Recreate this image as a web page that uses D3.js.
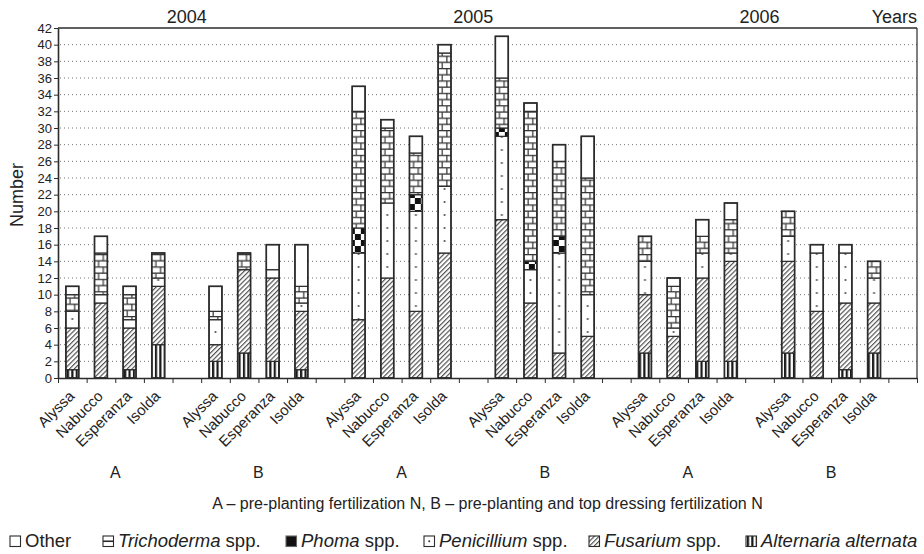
<!DOCTYPE html>
<html><head><meta charset="utf-8">
<script src="https://cdn.jsdelivr.net/npm/d3@7"></script>
<style>
body{margin:0;background:#fff;}
text{font-family:"Liberation Sans",Arial,Helvetica,sans-serif;fill:#222;}
</style>
</head><body>
<svg id="chart" width="924" height="554"></svg>
<script>
// Categories
const cultivars = ["Alyssa", "Nabucco", "Esperanza", "Isolda"];
const years = ["2004", "2005", "2006"];
const treatments = ["A", "B"];
const yTicks = d3.range(0, 43, 2);

// Counts per bar, ordered 2004A, 2004B, 2005A, 2005B, 2006A, 2006B,
// each block holding Alyssa, Nabucco, Esperanza, Isolda
const alternaria  = [1, 0, 1, 4,   2, 3, 2, 1,   0, 0, 0, 0,    0, 0, 0, 0,   3, 0, 2, 2,   3, 0, 1, 3];
const fusarium    = [5, 9, 5, 7,   2, 10, 10, 7, 7, 12, 8, 15,  19, 9, 3, 5,  7, 5, 10, 12, 11, 8, 8, 6];
const penicillium = [2, 1, 1, 1,   3, 0, 1, 1,   8, 9, 12, 8,   10, 4, 12, 5, 4, 1, 3, 1,    3, 7, 6, 3];
const phoma       = [0, 0, 0, 0,   0, 0, 0, 0,   3, 0, 2, 0,    1, 1, 2, 0,   0, 0, 0, 0,    0, 0, 0, 0];
const trichoderma = [2, 5, 3, 3,   1, 2, 0, 2,   14, 9, 5, 16,  6, 18, 9, 14, 3, 5, 2, 4,    3, 0, 0, 2];
const other       = [1, 2, 1, 0,   3, 0, 3, 5,   3, 1, 2, 1,    5, 1, 2, 5,   0, 1, 2, 2,    0, 1, 1, 0];

const seriesKeys = ["alternaria", "fusarium", "penicillium", "phoma", "trichoderma", "other"];
const seriesData = {alternaria, fusarium, penicillium, phoma, trichoderma, other};
const legendItems = [
  {key: "other", italic: "", plain: "Other"},
  {key: "trichoderma", italic: "Trichoderma", plain: " spp."},
  {key: "phoma", italic: "Phoma", plain: " spp."},
  {key: "penicillium", italic: "Penicillium", plain: " spp."},
  {key: "fusarium", italic: "Fusarium", plain: " spp."},
  {key: "alternaria", italic: "Alternaria alternata", plain: ""}
];

// one row per bar; groups are separated by an empty slot
const rows = [];
let i = 0;
years.forEach((yr, yi) => treatments.forEach((tr, ti) => cultivars.forEach((cv, ci) => {
  const g = yi * 2 + ti;
  const row = {slot: g * 5 + ci, year: yr, treatment: tr, cultivar: cv};
  seriesKeys.forEach(k => row[k] = seriesData[k][i]);
  rows.push(row);
  i++;
})));

const svg = d3.select("#chart");
const L = 58, R = 917, T = 28, B = 378;
const nSlots = 30;

const x = d3.scaleBand().domain(d3.range(nSlots)).range([L, R]).paddingInner(0.55).paddingOuter(0.275);
const xEdge = d3.scaleLinear().domain([0, nSlots]).range([L, R]);
const y = d3.scaleLinear().domain([0, 42]).range([B, T]);
const bw = x.bandwidth();
const ink = "#2b2b2b";

// fill patterns
const defs = svg.append("defs");
// Alternaria: vertical bars
const pA = defs.append("pattern").attr("id", "p-alternaria").attr("patternUnits", "userSpaceOnUse")
  .attr("width", 4.4).attr("height", 10).attr("x", x(0) + 1);
pA.append("rect").attr("width", 4.4).attr("height", 10).attr("fill", "#fff");
pA.append("rect").attr("width", 2.2).attr("height", 10).attr("fill", "#1a1a1a");
// Fusarium: diagonal hatching
const pF = defs.append("pattern").attr("id", "p-fusarium").attr("patternUnits", "userSpaceOnUse")
  .attr("width", 3.4).attr("height", 3.4).attr("patternTransform", "rotate(45)");
pF.append("rect").attr("width", 3.4).attr("height", 3.4).attr("fill", "#fff");
pF.append("line").attr("x1", 0.6).attr("x2", 0.6).attr("y1", 0).attr("y2", 3.4).attr("stroke", "#444").attr("stroke-width", 1.1);
// Penicillium: sparse dots
const pP = defs.append("pattern").attr("id", "p-penicillium").attr("patternUnits", "userSpaceOnUse")
  .attr("width", x.step()).attr("height", 13).attr("x", x(0)).attr("y", B);
pP.append("rect").attr("width", x.step()).attr("height", 13).attr("fill", "#fff");
pP.append("circle").attr("cx", bw / 2).attr("cy", 6).attr("r", 1.1).attr("fill", "#555");
// Phoma: checkerboard
const pH = defs.append("pattern").attr("id", "p-phoma").attr("patternUnits", "userSpaceOnUse")
  .attr("width", 12).attr("height", 12).attr("x", x(0) + 1).attr("y", B);
pH.append("rect").attr("width", 12).attr("height", 12).attr("fill", "#fff");
pH.append("rect").attr("width", 6).attr("height", 6).attr("fill", "#111");
pH.append("rect").attr("x", 6).attr("y", 6).attr("width", 6).attr("height", 6).attr("fill", "#111");
// Trichoderma: brick courses
const pT = defs.append("pattern").attr("id", "p-trichoderma").attr("patternUnits", "userSpaceOnUse")
  .attr("width", x.step()).attr("height", 12.4).attr("x", x(0)).attr("y", B);
pT.append("rect").attr("width", x.step()).attr("height", 12.4).attr("fill", "#fff");
pT.append("line").attr("x1", 0).attr("x2", x.step()).attr("y1", 0.6).attr("y2", 0.6).attr("stroke", "#333").attr("stroke-width", 1.3);
pT.append("line").attr("x1", 0).attr("x2", x.step()).attr("y1", 6.8).attr("y2", 6.8).attr("stroke", "#333").attr("stroke-width", 1.3);
pT.append("line").attr("x1", bw * 0.68).attr("x2", bw * 0.68).attr("y1", 0).attr("y2", 6.8).attr("stroke", "#333").attr("stroke-width", 1.2);
pT.append("line").attr("x1", bw * 0.32).attr("x2", bw * 0.32).attr("y1", 6.8).attr("y2", 12.4).attr("stroke", "#333").attr("stroke-width", 1.2);

const fillOf = k => k === "other" ? "#fff" : `url(#p-${k})`;

// gridlines
svg.append("g").selectAll("line").data(yTicks.filter(v => v > 0 && v < 42)).join("line")
  .attr("x1", L + 2).attr("x2", R).attr("y1", d => y(d)).attr("y2", d => y(d))
  .attr("stroke", "#777").attr("stroke-width", 1).attr("stroke-dasharray", "1,3");

// stacked bars
const stack = d3.stack().keys(seriesKeys)(rows);
const layers = svg.append("g").selectAll("g").data(stack).join("g")
  .attr("fill", d => fillOf(d.key));
layers.selectAll("rect").data(d => d.filter(s => s[1] > s[0])).join("rect")
  .attr("x", d => x(d.data.slot)).attr("width", bw)
  .attr("y", d => y(d[1])).attr("height", d => y(d[0]) - y(d[1]))
  .attr("stroke", ink).attr("stroke-width", 1.2);
// bar outlines
svg.append("g").selectAll("rect").data(rows).join("rect")
  .attr("x", d => x(d.slot)).attr("width", bw)
  .attr("y", d => y(d3.sum(seriesKeys, k => d[k])))
  .attr("height", d => B - y(d3.sum(seriesKeys, k => d[k])))
  .attr("fill", "none").attr("stroke", ink).attr("stroke-width", 1.6);

// frame
svg.append("line").attr("x1", L).attr("x2", R).attr("y1", T).attr("y2", T).attr("stroke", ink).attr("stroke-width", 1.5);
svg.append("line").attr("x1", R).attr("x2", R).attr("y1", T).attr("y2", B).attr("stroke", ink).attr("stroke-width", 1.2);

// axes
const yAxis = svg.append("g").attr("transform", `translate(${L},0)`)
  .call(d3.axisLeft(y).tickValues(yTicks).tickSize(4).tickPadding(2).tickSizeOuter(0));
yAxis.select(".domain").attr("stroke", ink).attr("stroke-width", 1.6);
yAxis.selectAll(".tick line").attr("stroke", ink);
yAxis.selectAll(".tick text").attr("font-size", 13).attr("font-family", null).attr("fill", "#222");

const xAxis = svg.append("g").attr("transform", `translate(0,${B})`)
  .call(d3.axisBottom(xEdge).tickValues(d3.range(nSlots + 1)).tickFormat("").tickSize(5).tickSizeOuter(0));
xAxis.select(".domain").attr("stroke", ink).attr("stroke-width", 1.5);
xAxis.selectAll(".tick line").attr("stroke", ink);

// cultivar labels
svg.append("g").selectAll("text").data(rows).join("text")
  .attr("transform", d => `translate(${x(d.slot) + bw / 2 + 3},${B + 19}) rotate(-45)`)
  .attr("text-anchor", "end").attr("font-size", 15).text(d => d.cultivar);

// treatment labels
const groups = d3.range(6);
svg.append("g").selectAll("text").data(groups).join("text")
  .attr("x", g => xEdge(g * 5 + 2)).attr("y", 478)
  .attr("text-anchor", "middle").attr("font-size", 16).text(g => treatments[g % 2]);

// year labels
svg.append("g").selectAll("text").data(years).join("text")
  .attr("x", (d, yi) => xEdge(yi * 10 + 4.5)).attr("y", 23)
  .attr("text-anchor", "middle").attr("font-size", 18).text(d => d);
svg.append("text").attr("x", R).attr("y", 23).attr("text-anchor", "end").attr("font-size", 18).text("Years");

// axis title
svg.append("text").attr("transform", `translate(23,195) rotate(-90)`)
  .attr("text-anchor", "middle").attr("font-size", 18).text("Number");

// footnote
svg.append("text").attr("x", (L + R) / 2).attr("y", 509).attr("text-anchor", "middle").attr("font-size", 16)
  .text("A – pre-planting fertilization N, B – pre-planting and top dressing fertilization N");

// legend
const legendX = [10, 103, 286, 424, 589, 746];
const sw = 10.5;
const lg = svg.append("g").selectAll("g").data(legendItems).join("g")
  .attr("transform", (d, k) => `translate(${legendX[k]},536)`);
lg.each(function(d) {
  const g = d3.select(this);
  if (d.key === "phoma") {
    g.append("rect").attr("width", sw).attr("height", sw).attr("fill", "#111").attr("stroke", "#666").attr("stroke-width", 1.1);
  } else if (d.key === "penicillium") {
    g.append("rect").attr("width", sw).attr("height", sw).attr("fill", "#fff").attr("stroke", ink).attr("stroke-width", 1.1);
    g.append("circle").attr("cx", sw / 2).attr("cy", sw / 2).attr("r", 1).attr("fill", "#333");
  } else if (d.key === "trichoderma") {
    g.append("rect").attr("width", sw).attr("height", sw).attr("fill", "#fff").attr("stroke", ink).attr("stroke-width", 1.1);
    g.append("line").attr("x1", 0).attr("x2", sw).attr("y1", sw / 2).attr("y2", sw / 2).attr("stroke", ink).attr("stroke-width", 1.6);
  } else {
    g.append("rect").attr("width", sw).attr("height", sw)
      .attr("fill", fillOf(d.key)).attr("stroke", ink).attr("stroke-width", 1.1);
  }
});
const lt = lg.append("text").attr("x", 15).attr("y", 11).attr("font-size", 18.5);
lt.append("tspan").attr("font-style", "italic").text(d => d.italic);
lt.append("tspan").text(d => d.plain);
</script>
</body></html>
